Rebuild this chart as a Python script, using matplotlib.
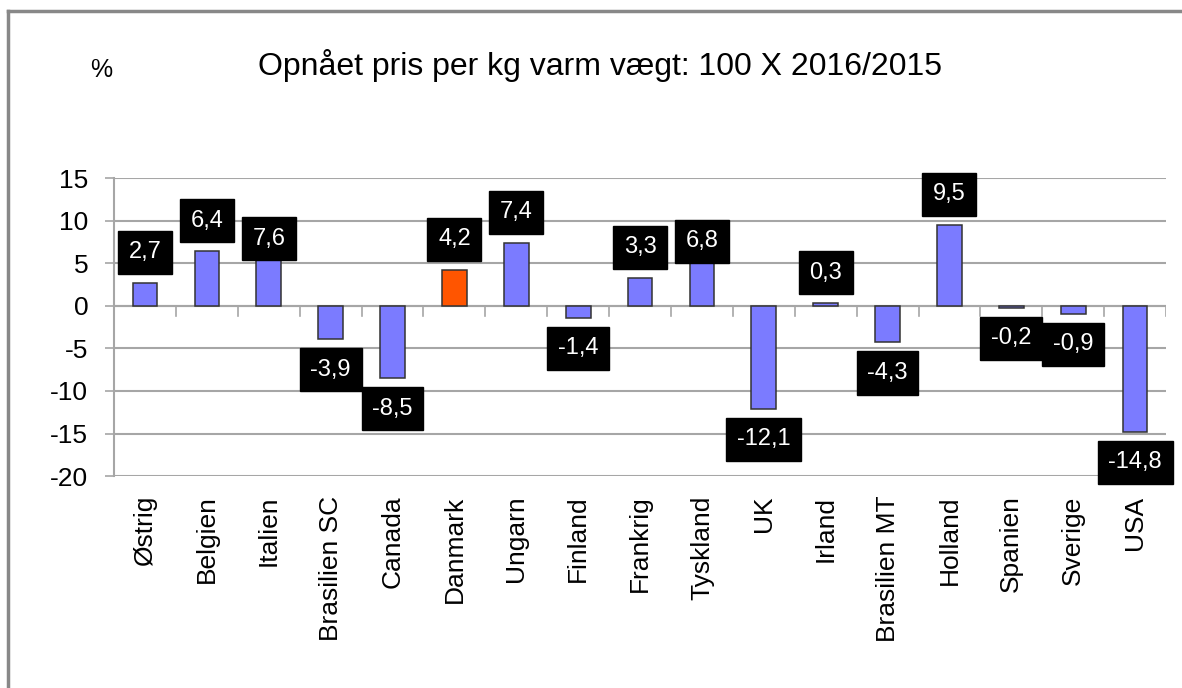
import numpy as np
import matplotlib.pyplot as plt
from matplotlib.lines import Line2D

plt.rcParams['font.family'] = ['Liberation Sans', 'DejaVu Sans']
plt.rcParams['axes.unicode_minus'] = False

countries = ['Østrig', 'Belgien', 'Italien', 'Brasilien SC', 'Canada', 'Danmark',
             'Ungarn', 'Finland', 'Frankrig', 'Tyskland', 'UK', 'Irland',
             'Brasilien MT', 'Holland', 'Spanien', 'Sverige', 'USA']
values = [2.7, 6.4, 7.6, -3.9, -8.5, 4.2, 7.4, -1.4, 3.3, 6.8, -12.1, 0.3,
          -4.3, 9.5, -0.2, -0.9, -14.8]
highlight = 'Danmark'

# label boxes sit ~3.6 units off the bar end, two were moved down by hand
label_shift = {'Italien': 0.3, 'Tyskland': 0.8}

fig = plt.figure(figsize=(11.82, 6.88), dpi=100)
ax = fig.add_axes([0.0965, 0.308, 0.8900, 0.433])

x = np.arange(len(countries))
colors = ['#ff5500' if c == highlight else '#7b7bff' for c in countries]
ax.bar(x, values, width=0.4, color=colors, edgecolor='#333333', linewidth=1.1, zorder=3)

for i, (c, v) in enumerate(zip(countries, values)):
    off = label_shift.get(c, 3.6)
    y = v + off if v >= 0 else v - off
    ax.text(i, y, f'{v:.1f}'.replace('.', ','), ha='center', va='center',
            color='white', fontsize=17, zorder=5,
            bbox=dict(boxstyle='square,pad=0.45', facecolor='black', edgecolor='black'))

ax.set_xlim(-0.5, len(countries) - 0.5)
ax.set_ylim(-20, 15)
ax.set_yticks(range(-20, 16, 5))
ax.yaxis.grid(True, color='#a6a6a6', linewidth=1.5, zorder=0)
ax.tick_params(axis='y', labelsize=19, length=6.5, width=1.2, color='#a6a6a6', pad=12)

ax.set_xticks(x)
ax.set_xticklabels(countries, rotation=90, fontsize=19)
ax.tick_params(axis='x', length=0, pad=14)

# category separator ticks hanging below the zero line
ax.axhline(0, color='#a6a6a6', linewidth=1.5, zorder=2)
for b in np.arange(-0.5, len(countries), 1.0):
    ax.add_line(Line2D([b, b], [0, -1.2], color='#a6a6a6', linewidth=1.2, zorder=2))

for s in ['top', 'right', 'bottom']:
    ax.spines[s].set_visible(False)
ax.spines['left'].set_color('#a6a6a6')
ax.spines['left'].set_linewidth(1.5)

fig.text(0.508, 0.905, 'Opnået pris per kg varm vægt: 100 X 2016/2015',
         ha='center', va='center', fontsize=23)
fig.text(0.086, 0.898, '%', ha='center', va='center', fontsize=18)

# outer frame (left and top edges visible)
fig.add_artist(Line2D([0.0068, 0.0068], [0, 0.984], transform=fig.transFigure,
                      color='#888888', linewidth=2.5))
fig.add_artist(Line2D([0.0068, 1.0], [0.984, 0.984], transform=fig.transFigure,
                      color='#888888', linewidth=2.5))

fig.savefig('out.png', dpi=100)
